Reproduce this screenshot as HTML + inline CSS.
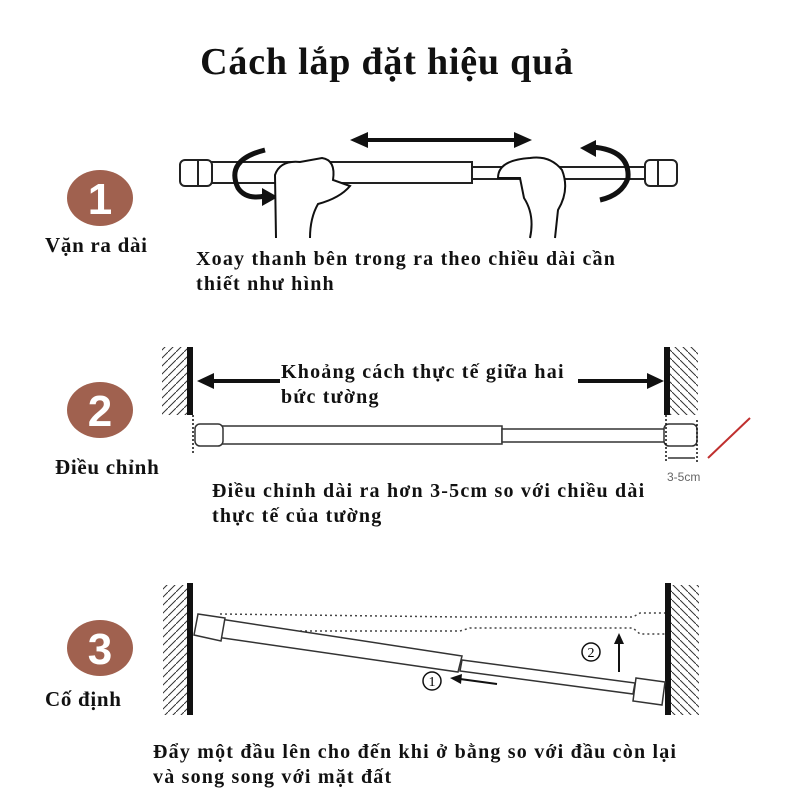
<!DOCTYPE html>
<html><head><meta charset="utf-8"><style>
body{margin:0;background:#fff;}
.t{font-family:"Liberation Serif","Noto Serif CJK SC",serif;font-weight:bold;fill:#111;}
.d{font-size:20px;letter-spacing:1.2px;}
.l{font-size:21px;letter-spacing:0.7px;}
</style></head><body>
<svg width="800" height="800" viewBox="0 0 800 800" xmlns="http://www.w3.org/2000/svg">
<defs>
<pattern id="h" width="8" height="8" patternUnits="userSpaceOnUse"><path d="M-2 10 L10 -2" stroke="#333" stroke-width="1"/></pattern>
<pattern id="h2" width="8" height="8" patternUnits="userSpaceOnUse"><path d="M-2 -2 L10 10" stroke="#333" stroke-width="1"/></pattern>
</defs>
<text x="387" y="74" text-anchor="middle" class="t" font-size="38" letter-spacing="0.8">Cách lắp đặt hiệu quả</text>

<g fill="#a0614f">
<ellipse cx="100" cy="198" rx="33" ry="28"/>
<ellipse cx="100" cy="410" rx="33" ry="28"/>
<ellipse cx="100" cy="648" rx="33" ry="28"/>
</g>
<g font-family="Liberation Sans,sans-serif" font-weight="bold" font-size="44" fill="#fff" text-anchor="middle">
<text x="100" y="214">1</text><text x="100" y="426">2</text><text x="100" y="664">3</text>
</g>
<text x="45" y="252" class="t l">Vặn ra dài</text>
<text x="55" y="474" class="t l">Điều chỉnh</text>
<text x="45" y="706" class="t l">Cố định</text>

<!-- Section 1 -->
<g stroke="#222" stroke-width="2" fill="#fff">
<rect x="210" y="162" width="262" height="21" />
<rect x="472" y="167" width="175" height="12" />
<rect x="180" y="160" width="32" height="26" rx="5"/>
<rect x="645" y="160" width="32" height="26" rx="5"/>
<line x1="198" y1="160" x2="198" y2="186"/><line x1="658" y1="160" x2="658" y2="186"/>
</g>
<line x1="362" y1="140" x2="520" y2="140" stroke="#111" stroke-width="4"/>
<path d="M350 140 L368 132 L368 148Z M532 140 L514 132 L514 148Z" fill="#111"/>
<path d="M265 150 Q225 160 238 188 Q246 200 265 196" fill="none" stroke="#111" stroke-width="5"/>
<path d="M278 197 L262 188 L262 206Z" fill="#111"/>
<path d="M592 147 Q630 150 628 178 Q622 195 600 200" fill="none" stroke="#111" stroke-width="5"/>
<path d="M580 148 L596 140 L596 157Z" fill="#111"/>
<g stroke="#111" stroke-width="2" fill="#fff">
<path d="M276 238 L275 175 Q280 160 300 162 L322 158 Q336 160 333 180 L350 186 Q340 198 318 204 Q310 218 310 238"/>
<path d="M555 238 L558 210 Q570 190 562 170 Q550 155 530 158 Q498 160 498 178 L520 178 L524 198 Q535 215 530 238"/>
</g>
<text x="196" y="265" class="t d">Xoay thanh bên trong ra theo chiều dài cần</text>
<text x="196" y="290" class="t d">thiết như hình</text>

<!-- Section 2 -->
<rect x="162" y="347" width="26" height="68" fill="url(#h)"/>
<rect x="187" y="347" width="6" height="68" fill="#111"/>
<rect x="670" y="347" width="28" height="68" fill="url(#h2)"/>
<rect x="664" y="347" width="6" height="68" fill="#111"/>
<line x1="210" y1="381" x2="280" y2="381" stroke="#111" stroke-width="4"/>
<path d="M197 381 L214 373 L214 389Z" fill="#111"/>
<line x1="578" y1="381" x2="652" y2="381" stroke="#111" stroke-width="4"/>
<path d="M664 381 L647 373 L647 389Z" fill="#111"/>
<text x="281" y="378" class="t d">Khoảng cách thực tế giữa hai</text>
<text x="281" y="403" class="t d">bức tường</text>
<g stroke="#333" stroke-width="1.5" fill="#fff">
<rect x="220" y="426" width="282" height="18"/>
<rect x="502" y="429" width="163" height="13"/>
<rect x="195" y="424" width="28" height="22" rx="5"/>
<rect x="664" y="424" width="33" height="22" rx="5"/>
</g>
<g stroke="#111" stroke-width="1.5" stroke-dasharray="2 2">
<line x1="193" y1="415" x2="193" y2="455"/>
<line x1="666" y1="415" x2="666" y2="462"/>
<line x1="697" y1="420" x2="697" y2="462"/>
</g>
<line x1="668" y1="458" x2="695" y2="458" stroke="#333" stroke-width="1.5"/>
<text x="667" y="481" font-family="Liberation Sans,sans-serif" font-size="12" fill="#666">3-5cm</text>
<line x1="708" y1="458" x2="750" y2="418" stroke="#c0302f" stroke-width="2"/>
<text x="212" y="497" class="t d">Điều chỉnh dài ra hơn 3-5cm so với chiều dài</text>
<text x="212" y="522" class="t d">thực tế của tường</text>

<!-- Section 3 -->
<rect x="163" y="585" width="24" height="130" fill="url(#h)"/>
<rect x="187" y="583" width="6" height="132" fill="#111"/>
<rect x="671" y="585" width="28" height="130" fill="url(#h2)"/>
<rect x="665" y="583" width="6" height="132" fill="#111"/>
<g stroke="#444" stroke-width="1.5" stroke-dasharray="2 3" fill="none">
<path d="M220 614 L460 617 L633 617 L640 613 L665 613"/>
<path d="M220 631 L460 631 L470 628 L633 628 L640 634 L665 634"/>
</g>
<g stroke="#333" stroke-width="1.5" fill="#fff">
<polygon points="220,619 462,656 458,672 216,637"/>
<polygon points="462,660 635,683 633,694 460,671"/>
<polygon points="198,614 225,618 221,641 194,635"/>
<polygon points="636,678 665,682 662,705 633,701"/>
</g>
<circle cx="432" cy="681" r="9" fill="none" stroke="#111" stroke-width="1.5"/>
<text x="432" y="686" text-anchor="middle" font-family="Liberation Serif,serif" font-size="14">1</text>
<line x1="460" y1="679" x2="497" y2="684" stroke="#111" stroke-width="2"/>
<path d="M450 678 L462 674 L461 684Z" fill="#111"/>
<circle cx="591" cy="652" r="9" fill="none" stroke="#111" stroke-width="1.5"/>
<text x="591" y="657" text-anchor="middle" font-family="Liberation Serif,serif" font-size="14">2</text>
<line x1="619" y1="672" x2="619" y2="642" stroke="#111" stroke-width="2"/>
<path d="M619 633 L614 644 L624 644Z" fill="#111"/>
<text x="153" y="758" class="t d" letter-spacing="1.8">Đẩy một đầu lên cho đến khi ở bằng so với đầu còn lại</text>
<text x="153" y="783" class="t d" letter-spacing="1.8">và song song với mặt đất</text>
</svg>
</body></html>
